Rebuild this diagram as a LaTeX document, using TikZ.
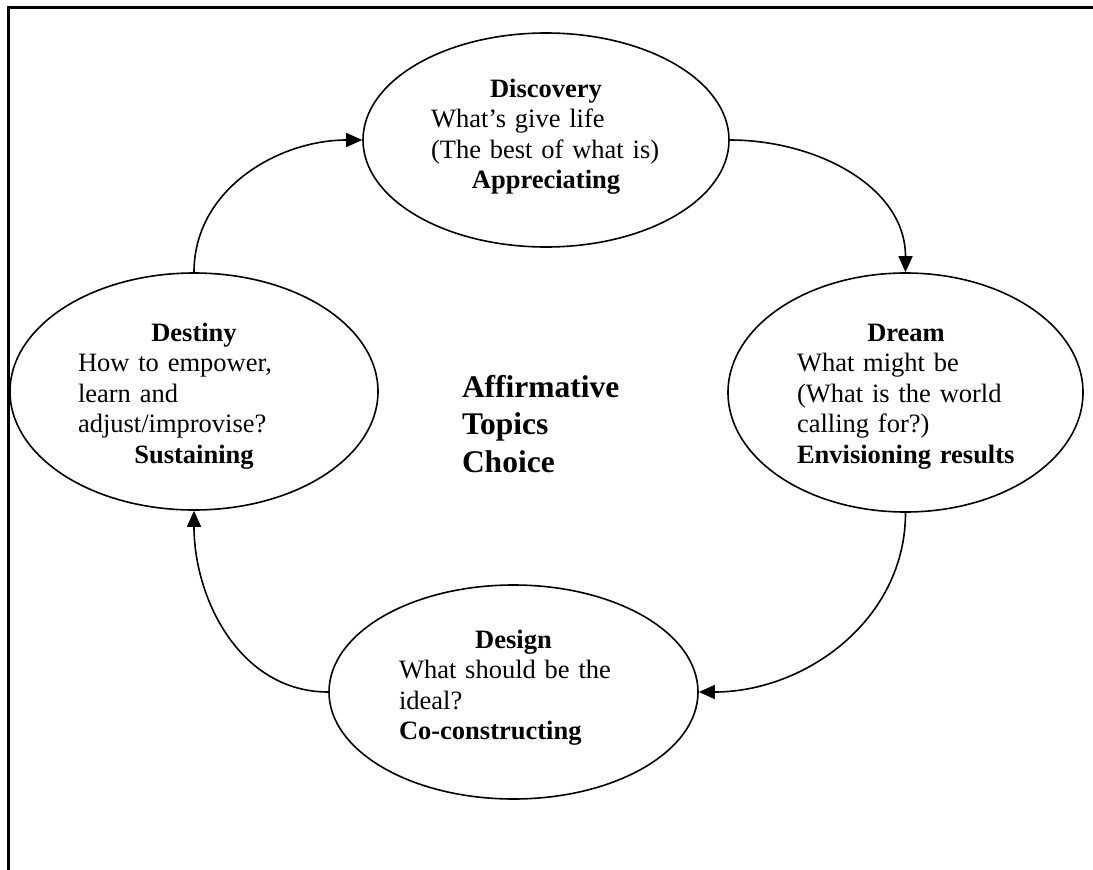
\documentclass[tikz,border=0pt]{standalone}
\usepackage{fontspec}
\setmainfont{Liberation Serif}
\usetikzlibrary{shapes.geometric,arrows.meta}

\begin{document}
\begin{tikzpicture}[x=1pt,y=1pt,
  phase/.style={ellipse,draw,line width=1.6pt,inner sep=0pt},
  body/.style={inner sep=0pt,outer sep=0pt,align=left,anchor=base west,
    font=\fontsize{26.5}{30.5}\selectfont},
  title/.style={inner sep=0pt,outer sep=0pt,align=left,anchor=base west,
    font=\fontsize{31.5}{37.5}\selectfont\bfseries},
  flow/.style={line width=1.6pt,-{Triangle[length=16pt,width=14pt]}},
  frame/.style={line width=2.2pt}]

\useasboundingbox (0,0) rectangle (1093,-870);

% page frame
\draw[frame] (8.5,-870) -- (8.5,-7.5) -- (1093,-7.5);

% the four phases of the cycle
\node[phase,minimum width=366pt,minimum height=214pt] (disc) at (546,-140) {};
\node[phase,minimum width=355pt,minimum height=239pt] (dream) at (905.5,-392.5) {};
\node[phase,minimum width=369pt,minimum height=214pt] (design) at (513.5,-692) {};
\node[phase,minimum width=368pt,minimum height=237pt] (destiny) at (194,-391.5) {};

% phase texts
\node[body,text width=230pt] (disctext) at (431,-97)
  {\makebox[\linewidth]{\bfseries Discovery}\\
   What’s give life\\
   (The best of what is)\\
   \makebox[\linewidth]{\bfseries Appreciating}};

\node[body,text width=218pt] (dreamtext) at (797,-341)
  {\makebox[\linewidth]{\bfseries Dream}\\
   What might be\\
   (What is the world\\
   calling for?)\\
   \textbf{Envisioning results}};

\node[body,text width=229pt] (designtext) at (399,-648)
  {\makebox[\linewidth]{\bfseries Design}\\
   What should be the\\
   ideal?\\
   \textbf{Co-constructing}};

\node[body,text width=232pt] (destinytext) at (78,-341)
  {\makebox[\linewidth]{\bfseries Destiny}\\
   How to empower,\\
   learn and\\
   adjust/improvise?\\
   \makebox[\linewidth]{\bfseries Sustaining}};

% centre label
\node[title,text width=200pt] (topic) at (462,-397)
  {Affirmative\\Topics\\Choice};

% cycle arrows
\draw[flow] (destiny.north) to[out=90,in=180] (disc.west);
\draw[flow] (disc.east) to[out=0,in=90] (dream.north);
\draw[flow] (dream.south) to[out=-90,in=0] (design.east);
\draw[flow] (design.west) to[out=180,in=-90] (destiny.south);

\end{tikzpicture}
\end{document}
